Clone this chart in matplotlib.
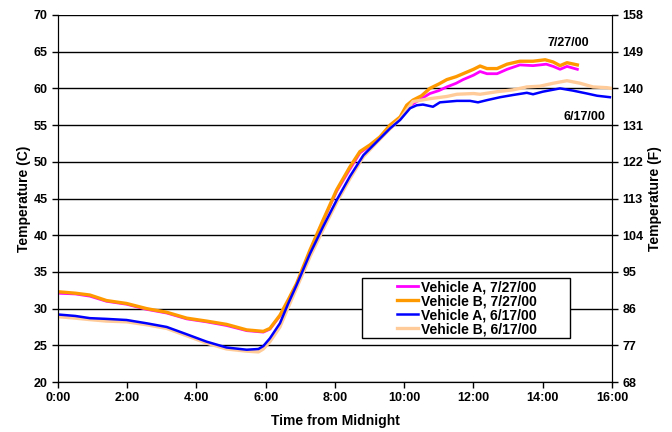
import numpy as np
import matplotlib.pyplot as plt
from matplotlib.patches import Rectangle

plt.rcParams["font.family"] = ["Liberation Sans", "DejaVu Sans"]
plt.rcParams["font.weight"] = "bold"

# hours from midnight and temperature in deg C for each run
hours_a727 = [0.0, 0.5, 0.92, 1.4, 1.98, 2.56, 3.14, 3.72, 4.29, 4.87, 5.45, 5.93, 6.12, 6.41,
              6.65, 6.89, 7.28, 7.66, 8.05, 8.43, 8.72, 9.01, 9.3, 9.59, 9.88, 10.07, 10.25,
              10.5, 10.74, 11.0, 11.23, 11.5, 11.7, 12.0, 12.19, 12.39, 12.68, 12.97, 13.34,
              13.72, 13.92, 14.1, 14.3, 14.5, 14.7, 15.0]
temp_a727 = [32.1, 32.0, 31.7, 31.0, 30.6, 29.9, 29.4, 28.6, 28.2, 27.7, 27.0, 26.8, 27.2, 29.0,
             31.1, 33.3, 37.9, 42.0, 46.0, 49.0, 51.2, 52.2, 53.3, 54.9, 56.0, 57.3, 57.9,
             58.6, 59.3, 59.7, 60.2, 60.7, 61.2, 61.8, 62.3, 62.0, 62.0, 62.6, 63.2,
             63.1, 63.2, 63.3, 63.0, 62.6, 63.0, 62.6]

hours_b727 = [0.0, 0.5, 0.92, 1.4, 1.98, 2.56, 3.14, 3.72, 4.29, 4.87, 5.45, 5.93, 6.12, 6.41,
              6.65, 6.89, 7.28, 7.66, 8.05, 8.43, 8.72, 9.01, 9.3, 9.59, 9.88, 10.07, 10.25,
              10.5, 10.74, 11.0, 11.23, 11.5, 11.7, 12.0, 12.19, 12.39, 12.68, 12.97, 13.34,
              13.72, 14.07, 14.3, 14.5, 14.7, 15.0]
temp_b727 = [32.3, 32.1, 31.85, 31.1, 30.7, 30.0, 29.5, 28.7, 28.3, 27.85, 27.1, 26.9, 27.3, 29.1,
             31.2, 33.4, 38.0, 42.1, 46.2, 49.3, 51.4, 52.3, 53.4, 55.0, 56.1, 57.7, 58.4,
             59.0, 60.0, 60.6, 61.2, 61.6, 62.0, 62.6, 63.05, 62.7, 62.7, 63.3, 63.7,
             63.7, 63.9, 63.6, 63.1, 63.5, 63.2]

hours_a617 = [0.0, 0.5, 0.92, 1.4, 1.98, 2.56, 3.14, 3.72, 4.29, 4.87, 5.45, 5.79, 5.93, 6.12,
              6.41, 6.65, 6.89, 7.28, 7.66, 8.05, 8.43, 8.82, 9.2, 9.59, 9.88, 10.17, 10.36,
              10.54, 10.83, 11.03, 11.52, 11.9, 12.13, 12.39, 12.77, 13.14, 13.54, 13.72,
              14.0, 14.5, 14.87, 15.28, 15.57, 15.94]
temp_a617 = [29.2, 29.0, 28.7, 28.6, 28.45, 28.0, 27.5, 26.5, 25.5, 24.7, 24.4, 24.5, 24.9, 25.95,
             28.0, 30.7, 33.2, 37.5, 41.2, 44.8, 48.0, 50.9, 52.7, 54.55, 55.7, 57.3, 57.7,
             57.8, 57.5, 58.1, 58.3, 58.3, 58.1, 58.4, 58.8, 59.1, 59.4, 59.2,
             59.55, 60.0, 59.7, 59.3, 59.0, 58.8]

hours_b617 = [0.0, 0.5, 0.92, 1.4, 1.98, 2.56, 3.14, 3.72, 4.29, 4.87, 5.45, 5.79, 5.93, 6.12,
              6.41, 6.65, 6.89, 7.28, 7.66, 8.05, 8.43, 8.82, 9.2, 9.59, 9.88, 10.25, 10.74,
              11.23, 11.52, 12.0, 12.19, 12.68, 13.14, 13.54, 13.92, 14.3, 14.7, 15.08,
              15.45, 15.85, 16.0]
temp_b617 = [28.9, 28.7, 28.5, 28.3, 28.2, 27.8, 27.3, 26.3, 25.3, 24.5, 24.2, 24.1, 24.5, 25.5,
             27.5, 30.2, 32.8, 37.1, 40.8, 44.5, 47.7, 50.7, 52.6, 54.5, 55.8, 58.2, 58.6,
             58.9, 59.2, 59.3, 59.2, 59.55, 59.8, 60.2, 60.3, 60.7, 61.05, 60.7,
             60.2, 60.1, 60.0]

series = [
    ("Vehicle A, 7/27/00", hours_a727, temp_a727, "#FF00FF", 2.0),
    ("Vehicle B, 7/27/00", hours_b727, temp_b727, "#FF9900", 2.4),
    ("Vehicle A, 6/17/00", hours_a617, temp_a617, "#0000FF", 1.8),
    ("Vehicle B, 6/17/00", hours_b617, temp_b617, "#FFCC99", 2.4),
]
draw_order = [0, 1, 3, 2]

x_ticks = np.arange(0, 17, 2)
x_labels = ["%d:00" % h for h in x_ticks]
c_ticks = np.arange(20, 71, 5)

fig = plt.figure(figsize=(6.72, 4.32), dpi=100)
ax = fig.add_axes([0.0863, 0.1157, 0.8244, 0.8496])

handles = {}
for i in draw_order:
    label, hrs, temps, color, lw = series[i]
    handles[i], = ax.plot(hrs, temps, color=color, lw=lw, label=label, zorder=3)

ax.set_xlim(0, 16)
ax.set_ylim(20, 70)
ax.set_xticks(x_ticks)
ax.set_xticklabels(x_labels)
ax.set_yticks(c_ticks)
ax.yaxis.grid(True, color="black", lw=1)
ax.set_axisbelow(True)
ax.tick_params(direction="out", length=4, width=1, labelsize=9)
ax.spines["top"].set_visible(False)
ax.set_xlabel("Time from Midnight", fontsize=10, fontweight="bold", labelpad=7)
ax.set_ylabel("Temperature (C)", fontsize=10, fontweight="bold", labelpad=2)

# Fahrenheit scale on the right
ax2 = ax.twinx()
ax2.set_ylim(20 * 9 / 5 + 32, 70 * 9 / 5 + 32)
ax2.set_yticks(c_ticks * 9 / 5 + 32)
ax2.set_yticklabels(["%d" % f for f in c_ticks * 9 / 5 + 32])
ax2.tick_params(direction="out", length=4, width=1, labelsize=9)
ax2.spines["top"].set_visible(False)
ax2.set_ylabel("Temperature (F)", fontsize=10, fontweight="bold", labelpad=3)

ax.text(15.35, 65.3, "7/27/00", fontsize=9, fontweight="bold", ha="right", va="bottom")
ax.text(15.8, 56.9, "6/17/00", fontsize=9, fontweight="bold", ha="right", va="top")

# legend box drawn separately so the entries can sit toward its right side
ax.add_patch(Rectangle((0.549, 0.120), 0.375, 0.163, transform=ax.transAxes,
                       facecolor="white", edgecolor="black", lw=1, zorder=4))
leg = ax.legend([handles[i] for i in range(4)], [s[0] for s in series],
                loc="center left", bbox_to_anchor=(0.612, 0.2015), frameon=False,
                fontsize=10, handlelength=1.5, handletextpad=0.2,
                labelspacing=0.0, borderpad=0, borderaxespad=0)
leg.set_zorder(5)
for t in leg.get_texts():
    t.set_fontweight("bold")

fig.savefig("out.png", dpi=100)
